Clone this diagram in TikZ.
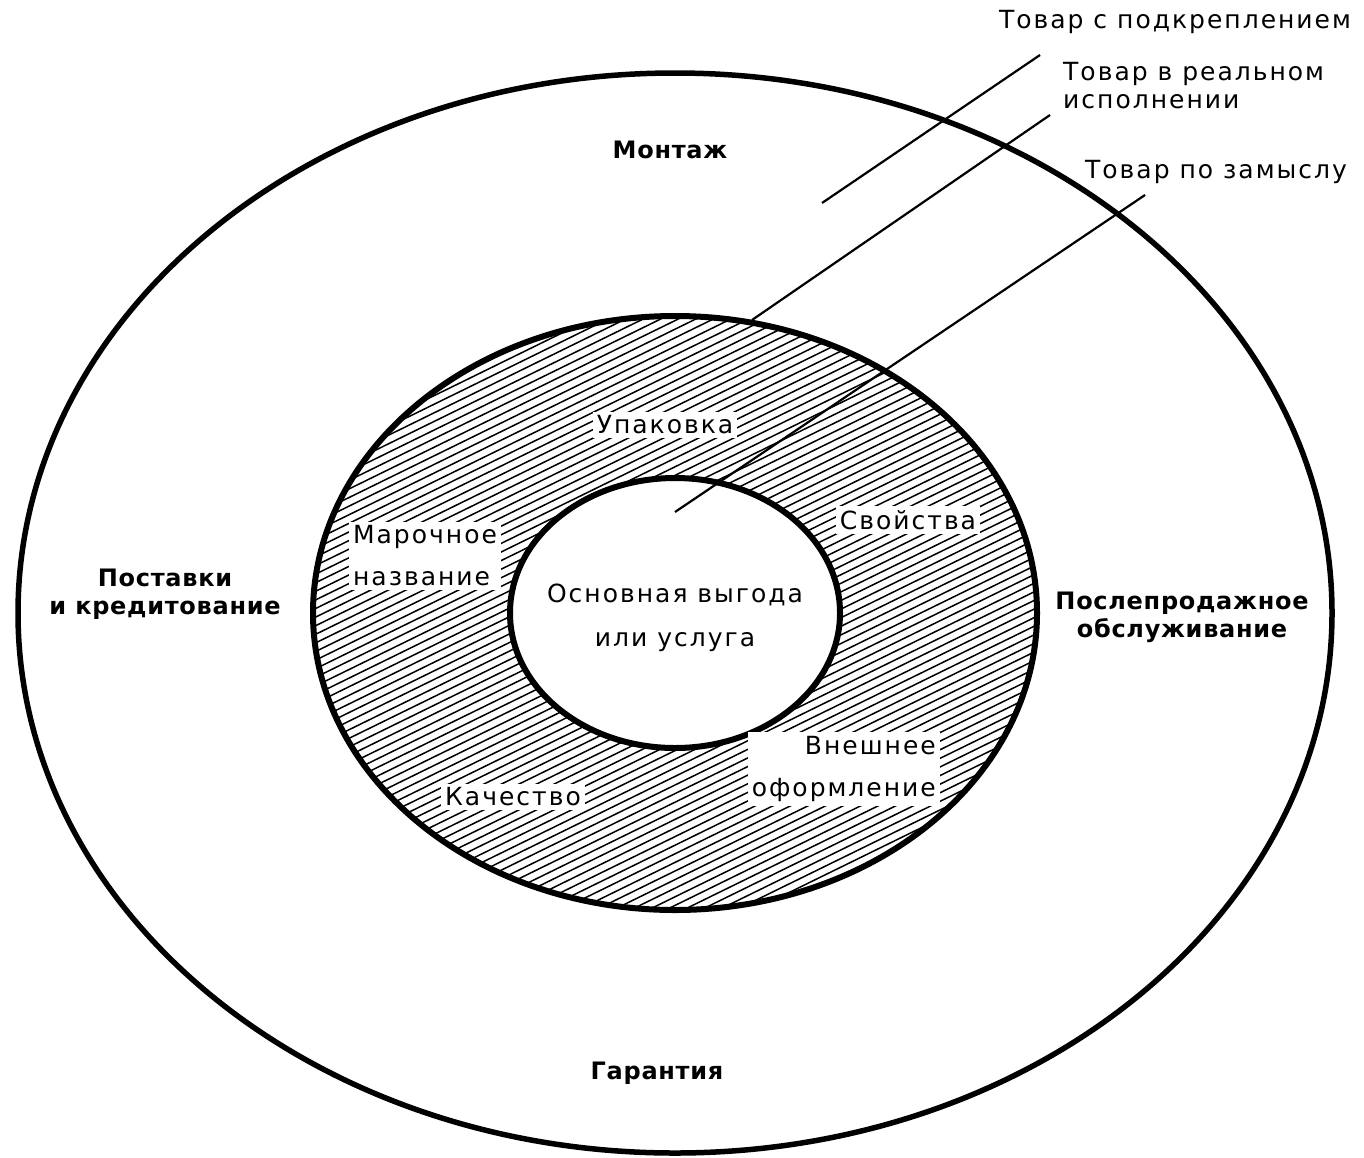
\documentclass[tikz,border=0pt]{standalone}
\usepackage{fontspec}
\setmainfont{DejaVu Sans}
\newfontfamily\lblfont[LetterSpace=8]{DejaVu Sans}
\newfontfamily\lblbold[LetterSpace=3]{DejaVu Sans}
\usetikzlibrary{calc}
\begin{document}
\begin{tikzpicture}[x=1pt,y=-1pt,
  ringlbl/.style={font=\lblfont\fontsize{25}{42}\selectfont, fill=white, inner sep=4pt},
  toplbl/.style={font=\lblfont\fontsize{25}{28}\selectfont, inner sep=1pt},
  outerlbl/.style={font=\lblbold\bfseries\fontsize{24}{28}\selectfont, align=center, inner sep=1pt},
  corelbl/.style={font=\lblfont\fontsize{25}{44}\selectfont, align=center, inner sep=1pt},
  pointer/.style={line width=2.2pt}]
\useasboundingbox (0,0) rectangle (1364,1157);
\fill[white] (0,0) rectangle (1364,1157);
\coordinate (c) at (675,613);
% outer ellipse
\draw[line width=5.5pt] (c) ellipse [x radius=657, y radius=540];
% hatching of the ring
\begin{scope}[even odd rule]
  \clip (c) ellipse [x radius=362, y radius=297] (c) ellipse [x radius=165, y radius=135];
  \foreach \i in {-110,...,110} {
    \draw[line width=1.5pt] (175,613+\i*8.6+245) -- (1175,613+\i*8.6-245);
  }
\end{scope}
\draw[line width=6pt] (c) ellipse [x radius=362, y radius=297];
\draw[line width=6pt] (c) ellipse [x radius=165, y radius=135];
% pointers
\coordinate (p1a) at (1040,55);  \coordinate (p1b) at (822,203);
\coordinate (p2a) at (1050,115); \coordinate (p2b) at (752,320);
\coordinate (p3a) at (1145,195); \coordinate (p3b) at (675,512);
\draw[pointer] (p1a) -- (p1b);
\draw[pointer] (p2a) -- (p2b);
\draw[pointer] (p3a) -- (p3b);
% top right labels
\node[toplbl] (augm) at (1175,22) {Товар с подкреплением};
\node[toplbl, anchor=west, align=left] (real) at (1062,86) {Товар в реальном\\исполнении};
\node[toplbl] (idea) at (1216,172) {Товар по замыслу};
% outer ring labels
\node[outerlbl] (mont) at (670,150) {Монтаж};
\node[outerlbl] (post) at (165,594) {Поставки\\и кредитование};
\node[outerlbl] (serv) at (1182,617) {Послепродажное\\обслуживание};
\node[outerlbl] (gar) at (657,1073) {Гарантия};
% hatched ring labels
\node[ringlbl] (pack) at (665,425) {Упаковка};
\node[ringlbl, align=left] (brand) at (425,556) {Марочное\\название};
\node[ringlbl] (prop) at (908,520) {Свойства};
\node[ringlbl, align=right, anchor=east] (look) at (940,769) {Внешнее\\оформление};
\node[ringlbl] (qual) at (513,797) {Качество};
% core
\node[corelbl] (core) at (675,618) {Основная выгода\\или услуга};
\end{tikzpicture}
\end{document}
